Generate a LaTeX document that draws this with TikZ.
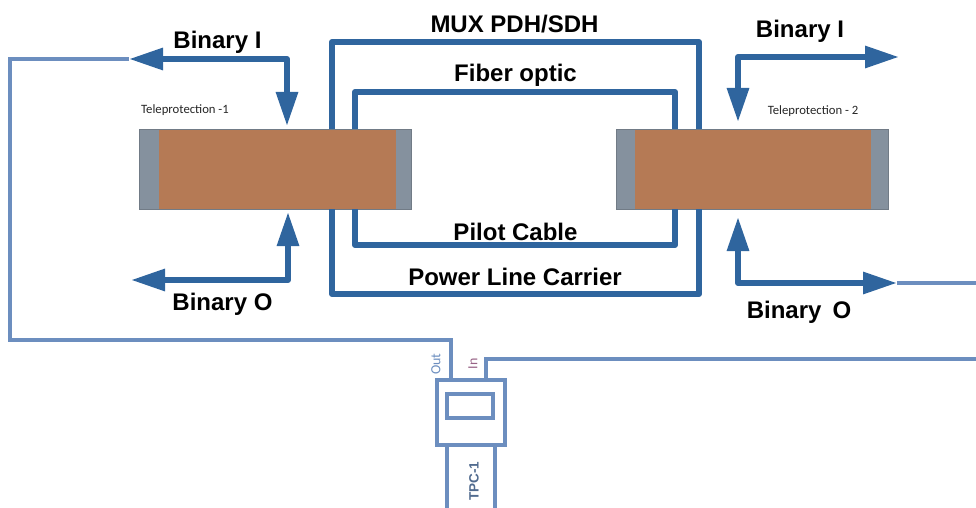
\documentclass[tikz,border=0pt]{standalone}
\usepackage{fontspec}
\setmainfont{Liberation Sans}
\newfontfamily\smallfont{Carlito}
\usetikzlibrary{arrows.meta,calc}
\definecolor{darkline}{HTML}{2F659E}
\definecolor{thinline}{HTML}{6C8EBF}
\definecolor{brownbox}{HTML}{B57A55}
\definecolor{greybox}{HTML}{85919E}
\tikzset{
  outerbox/.style={draw=greybox!85!black,line width=0.8pt,fill=greybox,minimum width=272pt,minimum height=80pt,inner sep=0pt,outer sep=0pt,anchor=north west},
  innerbox/.style={fill=brownbox,minimum height=79pt,inner sep=0pt,outer sep=0pt,anchor=north west},
  link/.style={draw=darkline,line width=6pt,line join=round},
  bigtip/.tip={Triangle[length=34pt,width=21pt]},
  flow/.style={draw=darkline,fill=none,line width=6pt,line join=round,{bigtip}-{bigtip}},
  thin link/.style={draw=thinline,line width=3.5pt,line join=miter},
  tpc/.style={draw=thinline,line width=4pt,inner sep=0pt,outer sep=0pt,anchor=north west},
  heading/.style={font=\fontsize{24}{26}\selectfont\bfseries,inner sep=0pt,anchor=center,text=black},
  caption/.style={font=\smallfont\fontsize{12.7}{14}\selectfont,inner sep=0pt,text=black!85},
  vertlabel/.style={font=\smallfont\fontsize{14}{16}\selectfont,inner sep=0pt,rotate=90,text=thinline}
}
\begin{document}
\begin{tikzpicture}[x=1pt,y=-1pt]
\useasboundingbox (0,0) rectangle (976,508);
% Teleprotection units
\node[outerbox] (unitA) at (139,129) {};
\node[innerbox,minimum width=237pt] (coreA) at (159,129.5) {};
\node[outerbox] (unitB) at (616,129) {};
\node[innerbox,minimum width=236pt] (coreB) at (635,129.5) {};
% port coordinates
\coordinate (aMuxTop) at (332,129);
\coordinate (aFibTop) at (355,129);
\coordinate (aMuxBot) at (332,209);
\coordinate (aFibBot) at (355,209);
\coordinate (bMuxTop) at (699,129);
\coordinate (bFibTop) at (675,129);
\coordinate (bMuxBot) at (699,209);
\coordinate (bFibBot) at (675,209);
% transmission links
\draw[link] (aMuxTop) |- (bMuxTop |- 0,42) -- (bMuxTop);
\draw[link] (aFibTop) |- (bFibTop |- 0,92) -- (bFibTop);
\draw[link] (aFibBot) |- (bFibBot |- 0,245) -- (bFibBot);
\draw[link] (aMuxBot) |- (bMuxBot |- 0,294) -- (bMuxBot);
% binary arrows
\coordinate (aInFree) at (129,59);
\coordinate (aInPort) at (287,126);
\coordinate (aOutFree) at (131,280);
\coordinate (aOutPort) at (288,212);
\coordinate (bInFree) at (899,57);
\coordinate (bInPort) at (738,122);
\coordinate (bOutFree) at (897,283);
\coordinate (bOutPort) at (738,217);
\draw[flow] (aInFree) -| (aInPort);
\draw[flow] (aOutFree) -| (aOutPort);
\draw[flow] (bInFree) -| (bInPort);
\draw[flow] (bOutFree) -| (bOutPort);
% TPC
\node[tpc,minimum width=68pt,minimum height=65pt] (tpcBody) at (437,380) {};
\node[tpc,minimum width=46pt,minimum height=24pt] (tpcScreen) at (447,394) {};
\coordinate (tpcTailL) at (447,510);
\coordinate (tpcTailR) at (495,510);
\coordinate (tpcOut) at (451,380);
\coordinate (tpcIn) at (486,380);
\coordinate (edgeR1) at (976,283);
\coordinate (edgeR2) at (976,359);
\draw[draw=thinline,line width=4pt] (tpcTailL) -- (tpcTailL |- tpcBody.south);
\draw[draw=thinline,line width=4pt] (tpcTailR) -- (tpcTailR |- tpcBody.south);
\draw[thin link] (aInFree) -- (10,59) -- (10,340) -| (tpcOut);
\draw[thin link] (tpcIn) |- (edgeR2);
\draw[thin link] (bOutFree) -- (edgeR1);
% texts
\node[heading] (t1) at (217.5,42) {Binary I};
\node[heading] (t2) at (800,31) {Binary I};
\node[heading] (t3) at (222.5,304) {Binary O};
\node[heading] (t4) at (799,312) {Binary\hspace{11pt}O};
\node[heading] (t5) at (514.5,24) {MUX PDH/SDH};
\node[heading] (t6) at (515.5,75.5) {Fiber optic};
\node[heading] (t7) at (515.5,232) {Pilot Cable};
\node[heading] (t8) at (515,277) {Power Line Carrier};
\node[caption] (c1) at (185,110.5) {Teleprotection -1};
\node[caption] (c2) at (813,111.5) {Teleprotection - 2};
\node[vertlabel] (v1) at (436,364) {Out};
\node[vertlabel,text=thinline!70!red] (v2) at (473,364) {In};
\node[font=\fontsize{13.5}{15}\selectfont\bfseries,rotate=90,inner sep=0pt,text=thinline!75!black] (v3) at (474,481) {TPC-1};
\end{tikzpicture}
\end{document}
